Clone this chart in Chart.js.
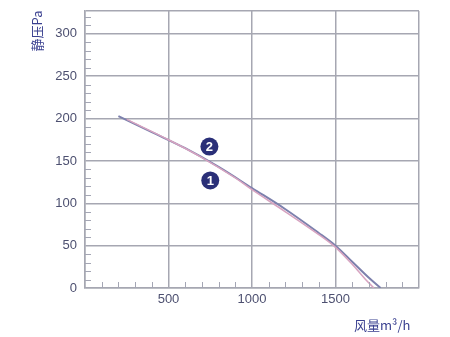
<!DOCTYPE html>
<html>
<head>
<meta charset="utf-8">
<script src="https://cdn.jsdelivr.net/npm/chart.js@4"></script>
<style>
  html, body { margin: 0; padding: 0; background: #fff; }
  #wrap { width: 450px; height: 337px; }
</style>
</head>
<body>
<div id="wrap"><canvas id="fanChart" width="450" height="337"></canvas></div>
<script>
// airflow m3/h vs static pressure Pa
const curve1Flow = [250, 500, 700, 900, 1000, 1200, 1400, 1500, 1600, 1680, 1730];
const curve1Pa   = [199, 175, 154, 130, 116, 90, 63, 48, 28, 10, 0];
const curve2Flow = [200, 400, 600, 800, 1000, 1200, 1400, 1500, 1600, 1700, 1770];
const curve2Pa   = [203, 184, 165, 143, 118, 93, 65, 50, 31, 12, 0];
const xTicks = [500, 1000, 1500];
const yTicks = [0, 50, 100, 150, 200, 250, 300];
const curveLabels = [
  { text: '2', flow: 745, pa: 167 },
  { text: '1', flow: 750, pa: 127 }
];

const toPts = (xs, ys) => xs.map((x, i) => ({ x: x, y: ys[i] }));

const extras = {
  id: 'extras',
  afterDatasetsDraw(chart) {
    const ctx = chart.ctx;
    const xs = chart.scales.x, ys = chart.scales.y;
    const a = chart.chartArea;
    ctx.save();
    // minor ticks inside the axes
    ctx.strokeStyle = '#a4a6b4';
    ctx.lineWidth = 1;
    for (let v = 10; v < 327; v += 10) {
      if (v % 50 === 0) continue;
      const py = Math.round(ys.getPixelForValue(v)) + 0.5;
      ctx.beginPath(); ctx.moveTo(a.left, py); ctx.lineTo(a.left + 6, py); ctx.stroke();
    }
    for (let v = 100; v < 2000; v += 100) {
      if (v % 500 === 0) continue;
      const px = Math.round(xs.getPixelForValue(v)) + 0.5;
      ctx.beginPath(); ctx.moveTo(px, a.bottom); ctx.lineTo(px, a.bottom - 6); ctx.stroke();
    }
    // curve number badges
    curveLabels.forEach(l => {
      const px = xs.getPixelForValue(l.flow), py = ys.getPixelForValue(l.pa);
      ctx.beginPath();
      ctx.arc(px, py, 9, 0, Math.PI * 2);
      ctx.fillStyle = '#2a2f78';
      ctx.fill();
      ctx.fillStyle = '#fff';
      ctx.font = 'bold 13px "Liberation Sans", sans-serif';
      ctx.textAlign = 'center';
      ctx.textBaseline = 'middle';
      ctx.fillText(l.text, px, py + 1);
    });
    // axis titles
    ctx.fillStyle = '#3a4090';
    ctx.font = '13px "Noto Sans CJK SC", sans-serif';
    ctx.save();
    ctx.translate(37, 31);
    ctx.rotate(-Math.PI / 2);
    ctx.textAlign = 'center';
    ctx.textBaseline = 'middle';
    ctx.fillText('静压Pa', 0, 0);
    ctx.restore();
    ctx.textAlign = 'left';
    ctx.textBaseline = 'middle';
    ctx.fillText('风量m³/h', 354, 325);
    ctx.restore();
  }
};

new Chart(document.getElementById('fanChart'), {
  type: 'line',
  data: {
    datasets: [
      {
        label: '1',
        data: toPts(curve1Flow, curve1Pa),
        borderColor: '#d7a3c0',
        borderWidth: 1.5,
        pointRadius: 0,
        tension: 0.35,
        fill: false
      },
      {
        label: '2',
        data: toPts(curve2Flow, curve2Pa),
        borderColor: '#7d81ad',
        borderWidth: 2,
        pointRadius: 0,
        tension: 0.35,
        fill: false
      }
    ]
  },
  options: {
    responsive: false,
    animation: false,
    layout: { padding: { left: 0, right: 31, top: 11, bottom: 0 } },
    plugins: {
      legend: { display: false },
      tooltip: { enabled: false }
    },
    scales: {
      x: {
        type: 'linear',
        min: 0,
        max: 2000,
        afterFit: s => { s.height = 49; s.paddingLeft = 0; s.paddingRight = 0; },
        afterBuildTicks: s => { s.ticks = [0].concat(xTicks, [2000]).map(v => ({ value: v })); },
        ticks: {
          padding: 4,
          color: '#4d5070',
          font: { size: 13, family: '"Liberation Sans", Arial, sans-serif' },
          callback: v => (xTicks.includes(v) ? String(v) : '')
        },
        grid: { color: '#a6a7b2', lineWidth: 1.5, drawTicks: false },
        border: { color: '#a6a7b2', width: 1.5 }
      },
      y: {
        min: 0,
        max: 327,
        afterFit: s => { s.width = 85; s.paddingTop = 0; s.paddingBottom = 0; },
        afterBuildTicks: s => { s.ticks = yTicks.concat([327]).map(v => ({ value: v })); },
        ticks: {
          padding: 8,
          color: '#4d5070',
          font: { size: 13, family: '"Liberation Sans", Arial, sans-serif' },
          callback: v => (yTicks.includes(v) ? String(v) : '')
        },
        grid: { color: '#a6a7b2', lineWidth: 1.5, drawTicks: false },
        border: { color: '#a6a7b2', width: 1.5 }
      }
    }
  },
  plugins: [extras]
});
</script>
</body>
</html>
